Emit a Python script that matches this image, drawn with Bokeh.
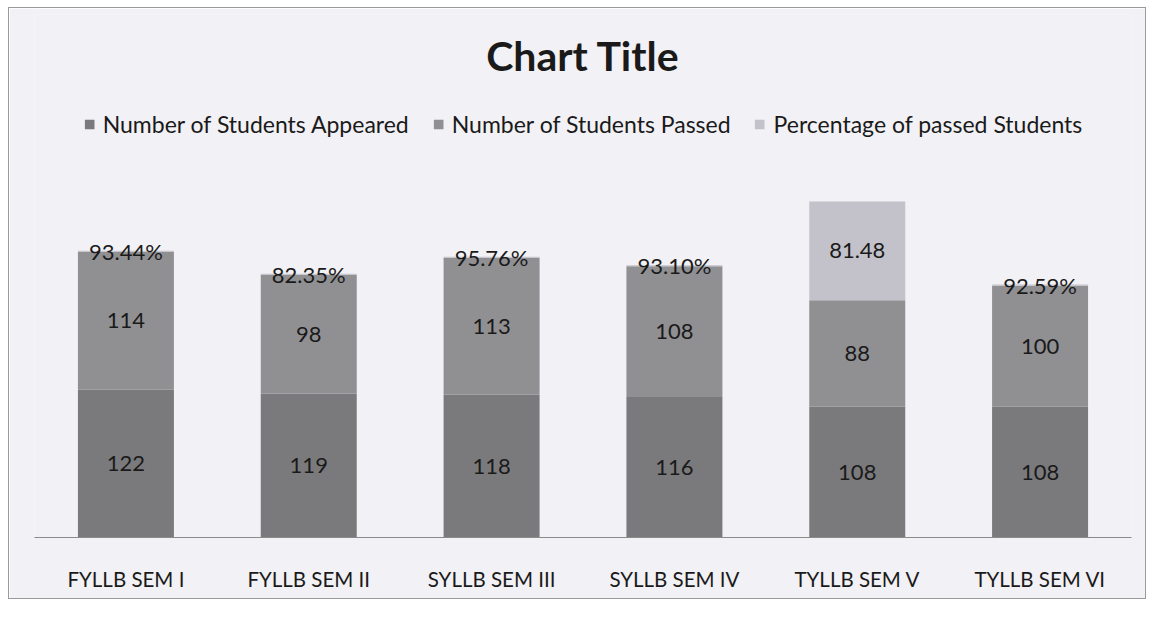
from bokeh.plotting import figure
from bokeh.models import ColumnDataSource, LabelSet, Label, Legend, LegendItem, FactorRange
from bokeh.core.properties import value
from bokeh.embed import file_html
from bokeh.resources import INLINE

categories = ["FYLLB SEM I", "FYLLB SEM II", "SYLLB SEM III", "SYLLB SEM IV", "TYLLB SEM V", "TYLLB SEM VI"]
appeared = [122, 119, 118, 116, 108, 108]
passed = [114, 98, 113, 108, 88, 100]
percentage = [0.9344, 0.8235, 0.9576, 0.9310, 81.48, 0.9259]
series_names = ["Number of Students Appeared", "Number of Students Passed", "Percentage of passed Students"]

pct_text = [f"{v*100:.2f}%" if v < 1 else f"{v:.2f}" for v in percentage]

FONT = "Lato"
BG = "#f2f1f5"
colors = ["#7a7a7c", "#909093", "#c3c2ca"]

src = ColumnDataSource(dict(
    cat=categories,
    a_bot=[0]*6, a_top=appeared,
    p_bot=appeared, p_top=[x + y for x, y in zip(appeared, passed)],
    c_bot=[x + y for x, y in zip(appeared, passed)],
    c_top=[x + y + z for x, y, z in zip(appeared, passed, percentage)],
    a_mid=[x / 2 for x in appeared],
    p_mid=[x + y / 2 for x, y in zip(appeared, passed)],
    c_mid=[x + y + z / 2 for x, y, z in zip(appeared, passed, percentage)],
    a_txt=[str(v) for v in appeared],
    p_txt=[str(v) for v in passed],
    c_txt=pct_text,
))

p = figure(x_range=FactorRange(*categories, range_padding=0), y_range=(0, 432),
           width=1138, height=592, output_backend="svg", toolbar_location=None,
           min_border_left=25, min_border_right=16, min_border_top=6, min_border_bottom=63)
p.background_fill_color = BG
p.border_fill_color = BG
p.outline_line_color = None
p.grid.visible = False
p.yaxis.visible = False
p.styles = {"border": "1px solid #9a9a9a", "margin-left": "8px", "margin-top": "7px"}

W = 0.525
r1 = p.vbar(x="cat", bottom="a_bot", top="a_top", width=W, source=src, fill_color=colors[0], line_color=None)
r2 = p.vbar(x="cat", bottom="p_bot", top="p_top", width=W, source=src, fill_color=colors[1], line_color=None)
r3 = p.vbar(x="cat", bottom="c_bot", top="c_top", width=W, source=src, fill_color=colors[2], line_color=None)

for yf, tf in [("a_mid", "a_txt"), ("p_mid", "p_txt"), ("c_mid", "c_txt")]:
    p.add_layout(LabelSet(x="cat", y=yf, text=tf, source=src, text_align="center",
                          text_baseline="middle", text_font=value(FONT), text_font_size="22px",
                          text_color="#1a1a1a"))

xa = p.xaxis[0]
xa.axis_line_color = "#8a8a8a"
xa.axis_line_width = 1.2
xa.major_tick_line_color = None
xa.minor_tick_line_color = None
xa.major_tick_out = 0
xa.major_label_standoff = 29
xa.major_label_text_font = FONT
xa.major_label_text_font_size = "20.5px"
xa.major_label_text_color = "#1a1a1a"

p.add_layout(Label(x=3.0, y=398, text="Chart Title", text_align="center", text_baseline="middle",
                   text_font=FONT, text_font_size="41px", text_font_style="bold", text_color="#1a1a1a"))

legend = Legend(items=[LegendItem(label=series_names[0], renderers=[r1]),
                       LegendItem(label=series_names[1], renderers=[r2]),
                       LegendItem(label=series_names[2], renderers=[r3])],
                orientation="horizontal", location="top_center")
legend.margin = 96
legend.padding = 0
legend.spacing = 23
legend.glyph_width = 12
legend.glyph_height = 12
legend.label_standoff = 8
legend.label_text_font = FONT
legend.label_text_font_size = "23px"
legend.label_text_color = "#1a1a1a"
legend.background_fill_alpha = 0
legend.border_line_alpha = 0
p.add_layout(legend)

open("out.html", "w").write(file_html(p, INLINE))
